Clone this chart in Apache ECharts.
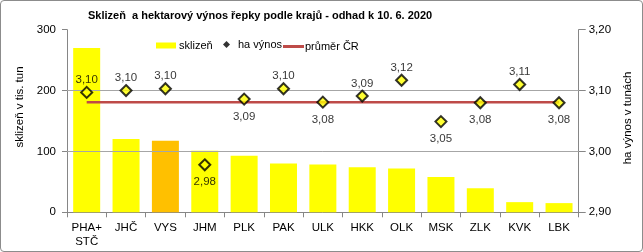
<!DOCTYPE html>
<html><head><meta charset="utf-8">
<script src="https://cdn.jsdelivr.net/npm/echarts@6/dist/echarts.min.js"></script>
<style>
html,body{margin:0;padding:0;background:#fff;}
#c{width:643px;height:252px;box-sizing:border-box;border:1px solid #8c8c8c;border-radius:4px;}
</style></head>
<body><div id="c"></div>
<script>
const categories = ['PHA+\nSTČ','JHČ','VYS','JHM','PLK','PAK','ULK','HKK','OLK','MSK','ZLK','KVK','LBK'];
const harvest = [270, 120.5, 117.5, 101, 93, 80, 78.5, 74, 72, 58, 39.5, 16.7, 15.1];
const yieldHa = [3.097, 3.100, 3.103, 2.978, 3.086, 3.103, 3.081, 3.091, 3.117, 3.049, 3.080, 3.110, 3.080];
const labelPos = ['top','top','top','bottom','bottom','top','bottom','top','top','bottom','bottom','top','bottom'];
const avgCR = 3.081;
const highlightIndex = 2;
const leftTicks = [0, 100, 200, 300];
const rightTicks = [2.90, 3.00, 3.10, 3.20];

const FONT = 'Liberation Sans';
const fmt = v => Number(v).toFixed(2).replace('.', ',');
const chart = echarts.init(document.getElementById('c'), null, {renderer:'canvas'});
chart.setOption({
  animation:false,
  textStyle:{fontFamily:FONT},
  title:{text:'Sklizeň  a hektarový výnos řepky podle krajů - odhad k 10. 6. 2020', left:87, top:9, padding:0,
    textStyle:{fontFamily:FONT, fontSize:11, fontWeight:'bold', color:'#000'}},
  legend:[
    {data:['sklizeň'], left:155, top:39, padding:0, itemWidth:20, itemHeight:6, icon:'rect', itemGap:0,
      textStyle:{fontFamily:FONT, fontSize:11, color:'#000', padding:[0,0,0,-2]}},
    {data:['ha výnos'], left:222, top:38, padding:0, itemWidth:7, itemHeight:7, icon:'diamond',
      itemStyle:{color:'#000', borderColor:'#000', borderWidth:0},
      textStyle:{fontFamily:FONT, fontSize:11, color:'#000', padding:[0,0,0,3]}},
    {data:['průměr ČR'], left:282, top:40, padding:0, itemWidth:21, itemHeight:3, icon:'rect',
      textStyle:{fontFamily:FONT, fontSize:11, color:'#000', padding:[0,0,0,-4]}}
  ],
  grid:{left:66, right:60, top:28.7, bottom:38.7, containLabel:false},
  xAxis:{type:'category', data:categories, boundaryGap:true,
    axisLine:{lineStyle:{color:'#868686', width:1}},
    axisTick:{show:true, length:5, alignWithLabel:false, lineStyle:{color:'#868686'}},
    axisLabel:{color:'#000', fontFamily:FONT, fontSize:11.5, margin:9, lineHeight:14, interval:0},
    splitLine:{show:false}},
  yAxis:[
    {type:'value', min:leftTicks[0], max:leftTicks[3], interval:100, position:'left',
      name:'sklizeň v tis. tun', nameLocation:'middle', nameGap:32, nameRotate:90,
      nameTextStyle:{fontFamily:FONT, fontSize:11.5, color:'#000', padding:[0,0,0,28]},
      axisLine:{show:true, lineStyle:{color:'#868686'}},
      axisTick:{show:true, length:5, lineStyle:{color:'#868686'}},
      axisLabel:{color:'#000', fontFamily:FONT, fontSize:11.5, margin:11},
      splitLine:{show:false}},
    {type:'value', min:rightTicks[0], max:rightTicks[3], interval:0.1, position:'right',
      name:'ha výnos v tunách', nameLocation:'middle', nameGap:38, nameRotate:90,
      nameTextStyle:{fontFamily:FONT, fontSize:11.5, color:'#000', padding:[0,0,0,6]},
      axisLine:{show:true, lineStyle:{color:'#868686'}},
      axisTick:{show:true, length:7, lineStyle:{color:'#868686'}},
      axisLabel:{color:'#000', fontFamily:FONT, fontSize:11.5, margin:10, formatter:fmt},
      splitLine:{show:false}}
  ],
  series:[
    {name:'grid', type:'line', yAxisIndex:0, data:[], z:1, silent:true,
      markLine:{silent:true, symbol:'none', label:{show:false}, animation:false,
        lineStyle:{color:'#a6a6a6', width:1, type:'solid'},
        data:leftTicks.slice(1, 3).map(v=>({yAxis:v}))}},
    {name:'sklizeň', type:'bar', yAxisIndex:0, barWidth:27, z:2,
      itemStyle:{color:'#FFFF00'},
      data:harvest.map((v,i)=> i===highlightIndex ? {value:v, itemStyle:{color:'#FFC000'}} : v)},
    {name:'průměr ČR', type:'line', yAxisIndex:1, symbol:'none', z:3,
      lineStyle:{color:'#BE4B48', width:2.5}, itemStyle:{color:'#BE4B48'},
      data:categories.map(()=>avgCR)},
    {name:'ha výnos', type:'scatter', yAxisIndex:1, symbol:'diamond', symbolSize:11, z:5,
      itemStyle:{color:'#FFFF00', borderColor:'#000', borderWidth:2},
      data:yieldHa.map((v,i)=>({value:v, label:{position:labelPos[i], distance: labelPos[i]==='top' ? 0 : 5}})),
      label:{show:true, color:'#000', fontFamily:FONT, fontSize:11.5, formatter:p=>fmt(p.value)}}
  ]
});
</script></body></html>
